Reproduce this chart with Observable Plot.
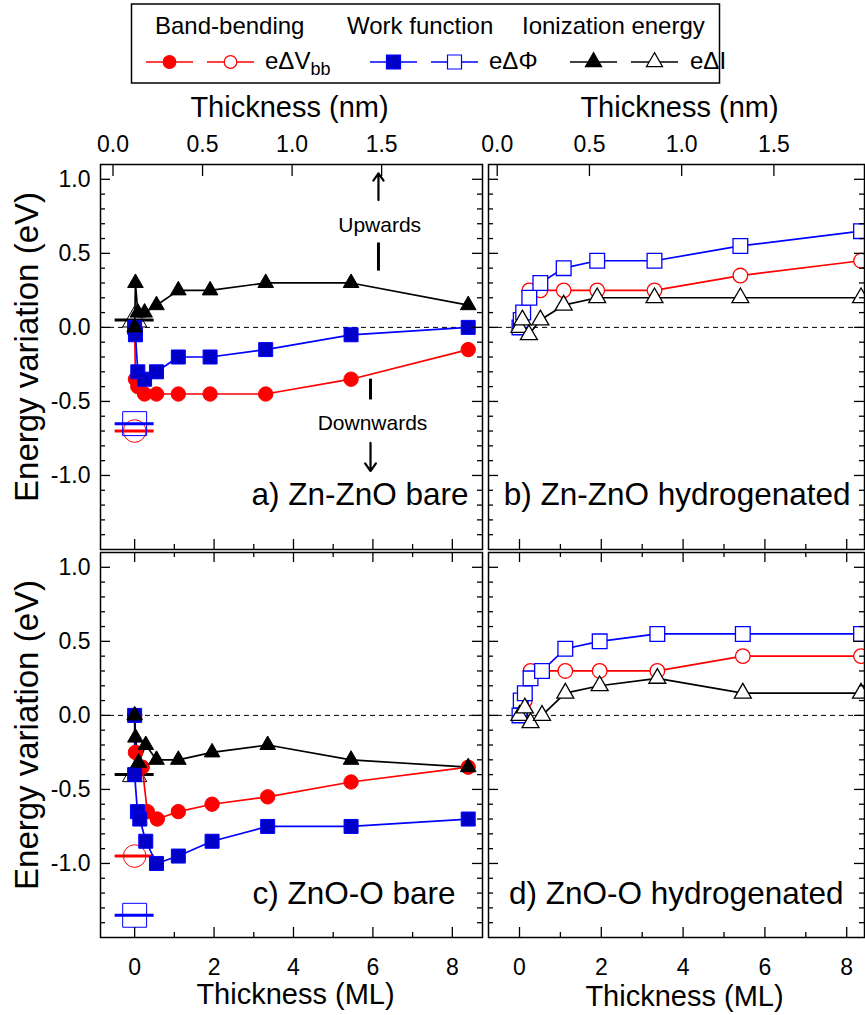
<!DOCTYPE html>
<html><head><meta charset="utf-8">
<script src="https://cdn.jsdelivr.net/npm/d3@7"></script>
<script src="https://cdn.jsdelivr.net/npm/@observablehq/plot@0.6"></script>
<style>
body{margin:0;background:#fff;}
#fig{position:relative;width:865px;height:1015px;overflow:hidden;background:#fff;font-family:"Liberation Sans",Arial,Helvetica,sans-serif;}
</style></head>
<body><div id="fig"></div>
<script>
// ---------------- data (thickness in ML, energy variation in eV) ----------------
// a) Zn-ZnO bare (filled markers)
const aThk    = [0, 0.02, 0.08, 0.25, 0.55, 1.1, 1.9, 3.3, 5.45, 8.4];
const aVbb    = [0, -0.35, -0.40, -0.45, -0.45, -0.45, -0.45, -0.45, -0.35, -0.15];
const aPhi    = [0, -0.05, -0.30, -0.35, -0.30, -0.20, -0.20, -0.15, -0.05, 0.00];
const aIon    = [0, 0.30, 0.10, 0.10, 0.15, 0.25, 0.25, 0.30, 0.30, 0.15];
const aRef    = [-0.70, -0.65, 0.05];   // reference eΔVbb, eΔΦ, eΔI at 0 ML

// b) Zn-ZnO hydrogenated (open markers)
const bThkVbb = [0, 0.09, 0.24, 0.51, 1.08, 1.9, 3.3, 5.4, 8.35];
const bVbb    = [0, 0.10, 0.25, 0.25, 0.25, 0.25, 0.25, 0.35, 0.45];
const bThkPhi = [0, 0.03, 0.09, 0.24, 0.51, 1.08, 1.9, 3.3, 5.4, 8.35];
const bPhi    = [0, 0.05, 0.10, 0.20, 0.30, 0.40, 0.45, 0.45, 0.55, 0.65];
const bThkIon = [0, 0.07, 0.23, 0.51, 1.08, 1.9, 3.3, 5.4, 8.35];
const bIon    = [0, 0.05, -0.05, 0.05, 0.15, 0.20, 0.20, 0.20, 0.20];

// c) ZnO-O bare (filled markers)
const cThkVbb = [0, 0.02, 0.19, 0.32, 0.57, 1.1, 1.95, 3.35, 5.45, 8.4];
const cVbb    = [0, -0.25, -0.35, -0.65, -0.70, -0.65, -0.60, -0.55, -0.45, -0.35];
const cThkPhi = [0, 0.0, 0.07, 0.13, 0.28, 0.55, 1.1, 1.95, 3.35, 5.45, 8.4];
const cPhi    = [0, -0.40, -0.65, -0.70, -0.85, -1.00, -0.95, -0.85, -0.75, -0.75, -0.70];
const cThkIon = [0, 0.02, 0.1, 0.28, 0.55, 1.1, 1.95, 3.35, 5.45, 8.4];
const cIon    = [0, -0.15, -0.32, -0.20, -0.30, -0.30, -0.25, -0.20, -0.30, -0.35];
const cRef    = [-0.95, -1.35, -0.40];

// d) ZnO-O hydrogenated (open markers)
const dThkVbb = [0, 0.13, 0.27, 0.55, 1.12, 1.96, 3.37, 5.46, 8.35];
const dVbb    = [0, 0.10, 0.30, 0.30, 0.30, 0.30, 0.30, 0.40, 0.40];
const dThkPhi = [0, 0.03, 0.13, 0.27, 0.55, 1.12, 1.96, 3.37, 5.46, 8.35];
const dPhi    = [0, 0.10, 0.15, 0.25, 0.30, 0.45, 0.50, 0.55, 0.55, 0.55];
const dThkIon = [0, 0.13, 0.27, 0.55, 1.12, 1.96, 3.37, 5.46, 8.35];
const dIon    = [0, 0.05, -0.05, 0.00, 0.15, 0.20, 0.25, 0.15, 0.15];

// annotations in panel a
const annArrows = [{x: 6.14, y1: 0.86, y2: 1.04}, {x: 5.94, y1: -0.78, y2: -0.97}];
const annBars   = [{x: 6.14, y1: 0.38, y2: 0.57}, {x: 5.94, y1: -0.35, y2: -0.49}];
const annTexts  = [{x: 6.17, y: 0.69, text: "Upwards"}, {x: 5.99, y: -0.65, text: "Downwards"}];

// tick labels
const yMajor  = [-1.0, -0.5, 0.0, 0.5, 1.0];
const xMajor  = [0, 2, 4, 6, 8];
const xMinor  = [1, 3, 5, 7];
const nmTicks = [0.0, 0.5, 1.0, 1.5];
const mlPerNm = 4.51, mlAtZeroNm = -0.545;   // top (nm) axis vs bottom (ML) axis

// ---------------- style ----------------
const FONT = "'Liberation Sans', Arial, Helvetica, sans-serif";
const RED = "#ff0000", BLUE = "#0000ff", BLUEFILL = "#0000c8", BLACK = "#000000";
const QUANT = [
  {key: "Vbb", color: RED,   fill: RED,      symbol: "circle",   r: 7.2, rOpen: 7.3, rRef: 11.3},
  {key: "Phi", color: BLUE,  fill: BLUEFILL, symbol: "square",   r: 7.9, rOpen: 8.3, rRef: 13.5},
  {key: "Ion", color: BLACK, fill: BLACK,    symbol: "triangle", r: 5.8, rOpen: 6.3, rRef: 9}
];
const REF_BAR = {draw(ctx) { ctx.moveTo(-20, 0); ctx.lineTo(19, 0); }};
const yMinor = d3.range(-14, 11).map(i => i / 10).filter(v => Math.abs(v * 2 - Math.round(v * 2)) > 1e-6);
const toML = nm => nm * mlPerNm + mlAtZeroNm;
const fromML = ml => (ml - mlAtZeroNm) / mlPerNm;
const rows = (t, v) => t.map((x, i) => ({t: x, v: v[i]}));
const fig = document.getElementById("fig");

function panel(o) {
  const fw = o.width - o.ml - o.mr, fh = o.height - o.mt - o.mb;
  const marks = [Plot.ruleY([0], {stroke: "black", strokeWidth: 1, strokeDasharray: "5,4"})];
  if (o.refs) {
    QUANT.forEach((q, i) => {
      const d = [{t: 0, v: o.refs[i]}];
      marks.push(Plot.dot(d, {x: "t", y: "v", symbol: REF_BAR, r: 1, fill: "none", stroke: q.color, strokeWidth: 3}));
      marks.push(Plot.dot(d, {x: "t", y: "v", symbol: q.symbol, r: q.rRef, fill: "none", stroke: q.color, strokeWidth: 1}));
    });
  }
  QUANT.forEach(q => marks.push(Plot.line(o.series[q.key], {x: "t", y: "v", stroke: q.color, strokeWidth: 1.7})));
  QUANT.forEach(q => marks.push(Plot.dot(o.series[q.key], {
    x: "t", y: "v", symbol: q.symbol, r: o.filled ? q.r : q.rOpen,
    fill: o.filled ? q.fill : "white", stroke: q.color, strokeWidth: o.filled ? 1 : 1.3
  })));
  if (o.annot) {
    marks.push(Plot.arrow(annArrows, {x1: "x", x2: "x", y1: "y1", y2: "y2", strokeWidth: 2.2, headLength: 9, headAngle: 70}));
    marks.push(Plot.ruleX(annBars, {x: "x", y1: "y1", y2: "y2", strokeWidth: 3}));
    marks.push(Plot.text(annTexts, {x: "x", y: "y", text: "text", fontSize: 21}));
  }
  // tick marks (inward, mirrored)
  const tk = {stroke: "black", strokeWidth: 1.3};
  marks.push(Plot.tickY(yMajor, {y: d => d, ...tk, insetRight: fw - 10}));
  marks.push(Plot.tickY(yMinor, {y: d => d, ...tk, insetRight: fw - 5}));
  marks.push(Plot.tickY(yMajor, {y: d => d, ...tk, insetLeft: fw - 10}));
  marks.push(Plot.tickY(yMinor, {y: d => d, ...tk, insetLeft: fw - 5}));
  marks.push(Plot.tickX(xMajor, {x: d => d, ...tk, insetTop: fh - 10}));
  marks.push(Plot.tickX(xMinor, {x: d => d, ...tk, insetTop: fh - 5}));
  if (o.top) {
    marks.push(Plot.tickX(nmTicks.map(toML), {x: d => d, ...tk, insetBottom: fh - 12}));
    marks.push(Plot.axisX({anchor: "top", ticks: nmTicks.map(toML), tickSize: 0, tickPadding: 13,
      tickFormat: d => fromML(d).toFixed(1), fontSize: 23, label: null}));
    marks.push(Plot.text(["Thickness (nm)"], {frameAnchor: "top", lineAnchor: "middle", dx: o.titleDx, dy: -57, fontSize: 29}));
  } else {
    marks.push(Plot.tickX(xMajor, {x: d => d, ...tk, insetBottom: fh - 10}));
    marks.push(Plot.tickX(xMinor, {x: d => d, ...tk, insetBottom: fh - 5}));
    marks.push(Plot.axisX({anchor: "bottom", ticks: xMajor, tickSize: 0, tickPadding: 21,
      tickFormat: d => String(d), fontSize: 23, label: null}));
    marks.push(Plot.text(["Thickness (ML)"], {frameAnchor: "bottom", lineAnchor: "middle", dx: o.titleDx, dy: o.titleDy, fontSize: 29}));
  }
  if (o.yLabels) {
    marks.push(Plot.axisY({anchor: "left", ticks: yMajor, tickSize: 0, tickPadding: 10,
      tickFormat: d => d.toFixed(1), fontSize: 23, label: null}));
    marks.push(Plot.text(["Energy variation (eV)"], {frameAnchor: "left", textAnchor: "middle", lineAnchor: "middle",
      rotate: -90, dx: -73, dy: -10, fontSize: 33}));
  }
  marks.push(Plot.text([o.label], {frameAnchor: "bottom-right", textAnchor: "end", lineAnchor: "middle",
    dx: o.labelDx, dy: o.labelDy, fontSize: 31.5}));
  marks.push(Plot.frame({stroke: "black", strokeWidth: 1.5}));

  const svg = Plot.plot({
    width: o.width, height: o.height,
    marginLeft: o.ml, marginRight: o.mr, marginTop: o.mt, marginBottom: o.mb,
    x: {domain: o.xDomain, axis: null},
    y: {domain: [-1.5, 1.1], axis: null},
    style: {background: "transparent", overflow: "visible", fontFamily: FONT, color: "black"},
    marks
  });
  svg.style.position = "absolute";
  svg.style.left = o.left + "px";
  svg.style.top = o.top0 + "px";
  fig.appendChild(svg);
}

const LEFT = {left: 0, width: 485, ml: 100, mr: 3, xDomain: [-0.86, 8.76], yLabels: true};
const RIGHT = {left: 484, width: 381, ml: 4, mr: 1, xDomain: [-0.758, 8.435], yLabels: false};
const TOP = {top0: 85, height: 467, mt: 79, mb: 3, top: true};
const BOT = {top0: 549, height: 466, mt: 3, mb: 78, top: false};

panel({...LEFT, ...TOP, filled: true, refs: aRef, annot: true, titleDx: -2,
  series: {Vbb: rows(aThk, aVbb), Phi: rows(aThk, aPhi), Ion: rows(aThk, aIon)},
  label: "a) Zn-ZnO bare", labelDx: -14, labelDy: -55});
panel({...RIGHT, ...TOP, filled: false, titleDx: 3,
  series: {Vbb: rows(bThkVbb, bVbb), Phi: rows(bThkPhi, bPhi), Ion: rows(bThkIon, bIon)},
  label: "b) Zn-ZnO hydrogenated", labelDx: -14, labelDy: -55});
panel({...LEFT, ...BOT, filled: true, refs: cRef, titleDx: 4, titleDy: 57,
  series: {Vbb: rows(cThkVbb, cVbb), Phi: rows(cThkPhi, cPhi), Ion: rows(cThkIon, cIon)},
  label: "c) ZnO-O bare", labelDx: -27, labelDy: -44});
panel({...RIGHT, ...BOT, filled: false, titleDx: 8, titleDy: 59,
  series: {Vbb: rows(dThkVbb, dVbb), Phi: rows(dThkPhi, dPhi), Ion: rows(dThkIon, dIon)},
  label: "d) ZnO-O hydrogenated", labelDx: -21, labelDy: -44});

// ---------------- legend (above the panels) ----------------
const legendHeads = ["Band-bending", "Work function", "Ionization energy"];
const legendNames = [["eΔV", "bb"], ["eΔΦ", ""], ["eΔI", ""]];
const leg = d3.select(fig).append("svg")
  .attr("width", 865).attr("height", 90)
  .style("position", "absolute").style("left", "0px").style("top", "0px")
  .style("font-family", FONT);
leg.append("rect").attr("x", 131.5).attr("y", 4).attr("width", 588).attr("height", 79)
  .attr("fill", "white").attr("stroke", "black").attr("stroke-width", 1.5);
const headX = [155, 347, 522];
const groupX = [146, 370, 570];
const nameX = [265, 489, 690];
const d3sym = {circle: d3.symbolCircle, square: d3.symbolSquare, triangle: d3.symbolTriangle};
const legR = [6.3, 7.9, 6.0];
QUANT.forEach((q, i) => {
  leg.append("text").attr("x", headX[i]).attr("y", 33.5).attr("font-size", 24).text(legendHeads[i]);
  [0, 61].forEach((off, j) => {
    const x0 = groupX[i] + off;
    leg.append("line").attr("x1", x0).attr("x2", x0 + 47).attr("y1", 62).attr("y2", 62)
      .attr("stroke", q.color).attr("stroke-width", 1.5);
    leg.append("path").attr("transform", `translate(${x0 + 23.5},62)`)
      .attr("d", d3.symbol(d3sym[q.symbol], Math.PI * legR[i] * legR[i])())
      .attr("fill", j === 0 ? q.fill : "white").attr("stroke", q.color).attr("stroke-width", 1.2);
  });
  const t = leg.append("text").attr("x", nameX[i]).attr("y", 69).attr("font-size", 24);
  t.append("tspan").text(legendNames[i][0]);
  if (legendNames[i][1]) t.append("tspan").attr("dy", 6).attr("font-size", 18).text(legendNames[i][1]);
});
</script>
</body></html>
